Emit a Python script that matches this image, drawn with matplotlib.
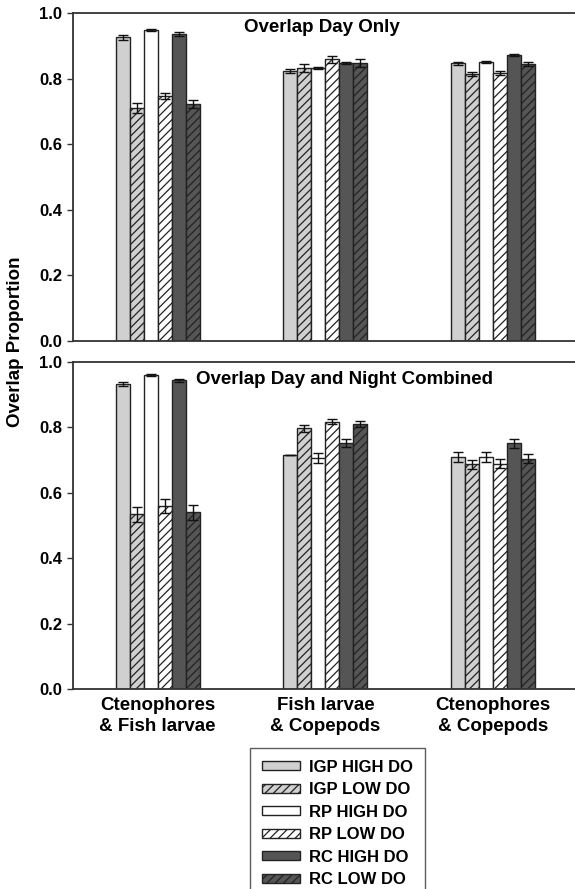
import matplotlib
matplotlib.use("Agg")
import matplotlib.pyplot as plt
import numpy as np
from matplotlib.patches import Patch

plt.rcParams['font.family'] = ['Liberation Sans', 'DejaVu Sans']
plt.rcParams['font.weight'] = 'bold'
plt.rcParams['hatch.linewidth'] = 0.9

# Pairs of taxa compared
groups = ["Ctenophores\n& Fish larvae", "Fish larvae\n& Copepods", "Ctenophores\n& Copepods"]
series = ["IGP HIGH DO", "IGP LOW DO", "RP HIGH DO", "RP LOW DO", "RC HIGH DO", "RC LOW DO"]

# Overlap proportion, day only
day_igp_high = [0.926, 0.823, 0.847]
day_igp_low = [0.711, 0.833, 0.814]
day_rp_high = [0.948, 0.831, 0.851]
day_rp_low = [0.747, 0.859, 0.816]
day_rc_high = [0.935, 0.848, 0.872]
day_rc_low = [0.722, 0.847, 0.844]

day_igp_high_se = [0.008, 0.005, 0.005]
day_igp_low_se = [0.015, 0.013, 0.005]
day_rp_high_se = [0.004, 0.003, 0.004]
day_rp_low_se = [0.010, 0.010, 0.006]
day_rc_high_se = [0.006, 0.003, 0.003]
day_rc_low_se = [0.012, 0.013, 0.006]

# Overlap proportion, day and night combined
all_igp_high = [0.933, 0.716, 0.709]
all_igp_low = [0.534, 0.797, 0.687]
all_rp_high = [0.960, 0.707, 0.709]
all_rp_low = [0.560, 0.817, 0.689]
all_rc_high = [0.944, 0.753, 0.751]
all_rc_low = [0.540, 0.810, 0.704]

all_igp_high_se = [0.005, 0.0, 0.016]
all_igp_low_se = [0.022, 0.010, 0.014]
all_rp_high_se = [0.003, 0.015, 0.016]
all_rp_low_se = [0.022, 0.008, 0.013]
all_rc_high_se = [0.005, 0.013, 0.015]
all_rc_low_se = [0.022, 0.010, 0.014]

day_means = [day_igp_high, day_igp_low, day_rp_high, day_rp_low, day_rc_high, day_rc_low]
day_errs = [day_igp_high_se, day_igp_low_se, day_rp_high_se, day_rp_low_se, day_rc_high_se, day_rc_low_se]
all_means = [all_igp_high, all_igp_low, all_rp_high, all_rp_low, all_rc_high, all_rc_low]
all_errs = [all_igp_high_se, all_igp_low_se, all_rp_high_se, all_rp_low_se, all_rc_high_se, all_rc_low_se]

fills = ["#d0d0d0", "#d0d0d0", "#ffffff", "#ffffff", "#555555", "#555555"]
hatches = [None, "////", None, "////", None, "////"]
edge = "#222222"

fig = plt.figure(figsize=(5.75, 8.89), dpi=100)
W, H = 575.0, 889.0
x0, x1 = 73 / W, 577 / W
ax_top = fig.add_axes([x0, 1 - 341 / H, x1 - x0, (341 - 13) / H])
ax_bot = fig.add_axes([x0, 1 - 689 / H, x1 - x0, (689 - 362) / H])

xc = np.arange(1, len(groups) + 1)
bw = 0.0835
offsets = (np.arange(len(series)) - 2.5) * bw


def draw_panel(ax, means, errs):
    for i in range(len(series)):
        ax.bar(xc + offsets[i], means[i], width=bw, color=fills[i], edgecolor=edge,
               linewidth=1.0, hatch=hatches[i], zorder=2)
        ax.errorbar(xc + offsets[i], means[i], yerr=errs[i], fmt="none", ecolor="#111111",
                    elinewidth=1.0, capsize=3.6, capthick=1.0, zorder=3)
    ax.set_xlim(0.496, 3.5)
    ax.set_ylim(0, 1.0)
    ax.set_yticks([0.0, 0.2, 0.4, 0.6, 0.8, 1.0])
    ax.set_yticklabels(["0.0", "0.2", "0.4", "0.6", "0.8", "1.0"])
    ax.tick_params(axis="y", direction="out", length=4, width=1.0, labelsize=12,
                   color="#333333", pad=4)
    for lab in ax.get_yticklabels():
        lab.set_fontweight("bold")
    ax.spines["right"].set_visible(False)
    for s in ["left", "top", "bottom"]:
        ax.spines[s].set_color("#333333")
        ax.spines[s].set_linewidth(1.3)


draw_panel(ax_top, day_means, day_errs)
draw_panel(ax_bot, all_means, all_errs)

ax_top.set_xticks([])
ax_bot.set_xticks(xc)
ax_bot.set_xticklabels(groups, fontsize=13.5, fontweight="bold", linespacing=1.3)
ax_bot.tick_params(axis="x", length=0, pad=6)

fig.text(321.5 / W, 1 - 27 / H, "Overlap Day Only", ha="center", va="center",
         fontsize=13.5, fontweight="bold")
fig.text(344 / W, 1 - 379 / H, "Overlap Day and Night Combined", ha="center", va="center",
         fontsize=13.5, fontweight="bold")
fig.text(16 / W, 1 - 342 / H, "Overlap Proportion", ha="center", va="center",
         rotation=90, fontsize=13.5, fontweight="bold")

handles = [Patch(facecolor=fills[i], edgecolor=edge, hatch=hatches[i], linewidth=1.0)
           for i in range(len(series))]
leg = fig.legend(handles, series, loc="upper center", bbox_to_anchor=(337.5 / W, 1 - 748 / H),
                 frameon=True, fancybox=False, edgecolor="#333333",
                 handlelength=2.27, handleheight=0.42, handletextpad=0.54, labelspacing=0.45,
                 borderpad=0.7, borderaxespad=0.0, prop={"weight": "bold", "size": 12})
leg.get_frame().set_linewidth(1.0)

fig.savefig("out.png", dpi=100)
